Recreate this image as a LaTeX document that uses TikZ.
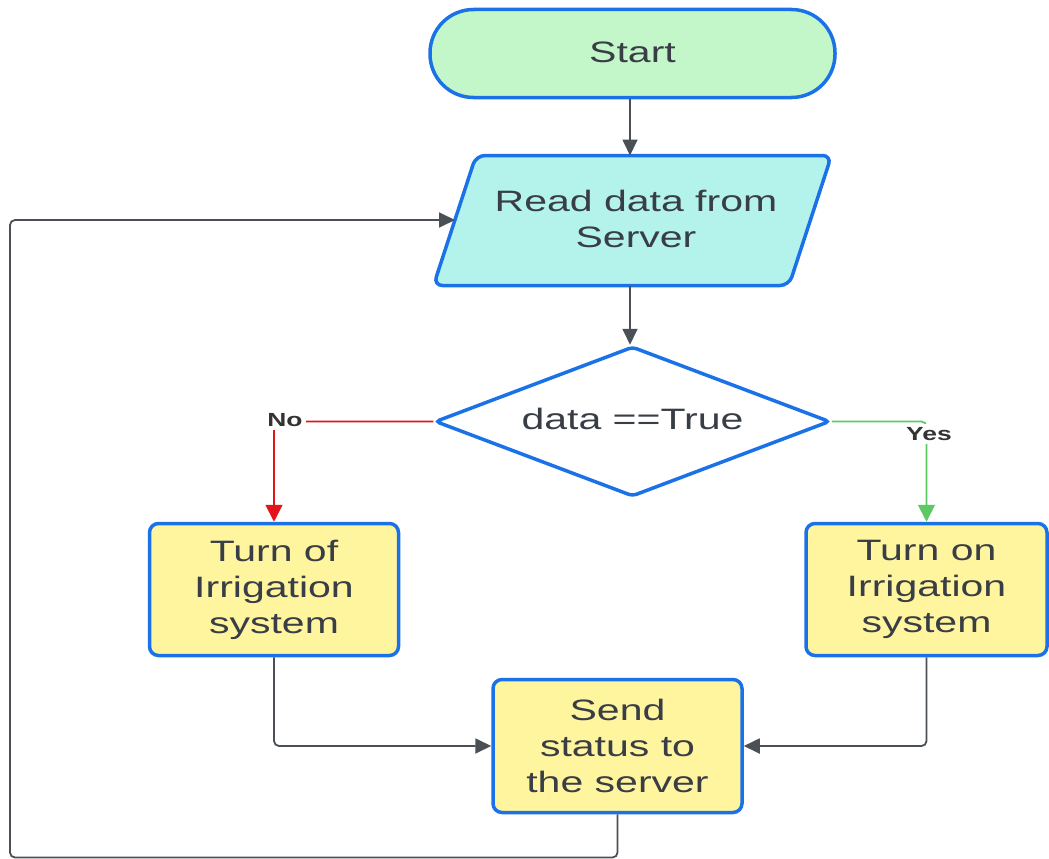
\documentclass[tikz,border=0pt]{standalone}
\usepackage{fontspec}
\setmainfont[FakeStretch=1.39]{Liberation Sans}
\usetikzlibrary{shapes.geometric,arrows.meta}

\definecolor{bordc}{HTML}{1B72E8}
\definecolor{startc}{HTML}{C3F7C9}
\definecolor{readc}{HTML}{B4F3EB}
\definecolor{boxc}{HTML}{FFF59F}
\definecolor{textc}{HTML}{393D45}
\definecolor{connc}{HTML}{4B4F56}
\definecolor{noc}{HTML}{E3141A}
\definecolor{yesc}{HTML}{5DC964}
\definecolor{labc}{HTML}{333333}

\begin{document}
\begin{tikzpicture}[x=1pt,y=-1pt,
  shapeline/.style={draw=bordc, line width=3.5pt},
  maintext/.style={text=textc, align=center, font=\fontsize{29.5}{36}\selectfont},
  procbox/.style={shapeline, maintext, fill=boxc, rounded corners=9pt, inner sep=0pt},
  conn/.style={draw=connc, line width=1.8pt, rounded corners=5pt,
               -{Triangle[length=16pt,width=15pt]}},
  nobranch/.style={conn, draw=noc, -{Triangle[length=17pt,width=17pt,fill=noc]}},
  yesbranch/.style={conn, draw=yesc, -{Triangle[length=17pt,width=17pt,fill=yesc]}},
  branchlab/.style={fill=white, text=labc, inner sep=3pt, font=\fontsize{19}{21}\selectfont\bfseries},
]
\useasboundingbox (0,0) rectangle (1049,859);

% terminal
\node[shapeline, maintext, fill=startc, rounded corners=43.5pt,
      minimum width=405pt, minimum height=88pt, inner sep=0pt]
      (start) at (632.5,53.5) {\raisebox{2.5pt}{Start}};

% input / output parallelogram
\coordinate (pTL) at (476,155.5);
\coordinate (pTR) at (831.5,155.5);
\coordinate (pBR) at (789,285.5);
\coordinate (pBL) at (433.5,285.5);
\draw[shapeline, fill=readc, rounded corners=9pt]
  (pTL) -- (pTR) -- (pBR) -- (pBL) -- cycle;
\node[maintext] (read) at (636,218.5) {Read data from\\Server};
\coordinate (readT) at (630,155.5);
\coordinate (readB) at (630,285.5);
\coordinate (readL) at (455,220);

% decision
\node[shapeline, maintext, fill=white, diamond, aspect=2.6,
      minimum width=395pt, minimum height=150pt, inner sep=0pt, rounded corners=4pt]
      (dec) at (632.5,421.5) {\raisebox{5pt}{data ==True}};

% actions
\node[procbox, minimum width=249pt, minimum height=132pt] (off) at (274,589.5)
  {Turn of\\Irrigation\\system};
\node[procbox, minimum width=241pt, minimum height=132pt] (on) at (926.5,589.5)
  {Turn on\\Irrigation\\system};
\node[procbox, minimum width=249pt, minimum height=133pt] (send) at (617.5,746)
  {Send\\status to\\the server};

\coordinate (loopBL) at (10,857.5);

% main flow
\draw[conn] (start.south -| readT) -- (readT);
\draw[conn] (readB) -- (readB |- dec.north);

% branches
\draw[nobranch] (dec.west) -| (off.north);
\node[branchlab] (nolab) at (285,420) {No};
\draw[yesbranch] (dec.east) -| (on.north);
\node[branchlab] (yeslab) at (929,434) {Yes};

% merge and loop back
\draw[conn] (off.south) |- (send.west);
\draw[conn] (on.south) |- (send.east);
\draw[conn] (send.south) |- (loopBL) |- (readL);
\end{tikzpicture}
\end{document}
